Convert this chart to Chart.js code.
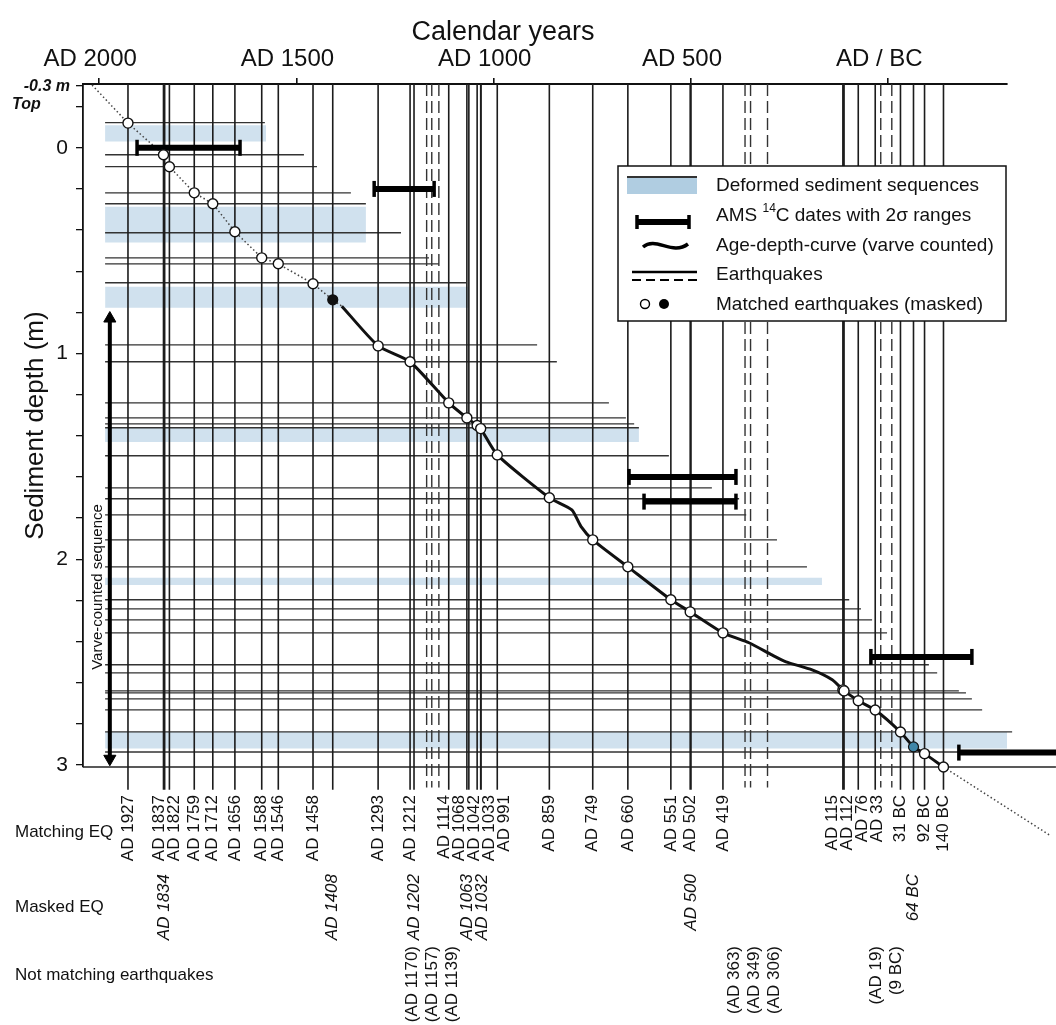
<!DOCTYPE html>
<html>
<head>
<meta charset="utf-8">
<script src="https://cdn.jsdelivr.net/npm/chart.js@4.4.1/dist/chart.umd.min.js"></script>
<style>
  html, body { margin: 0; padding: 0; background: #fff; }
  #wrap { width: 1056px; height: 1025px; position: relative; }
</style>
</head>
<body>
<div id="wrap"><canvas id="grafico"></canvas></div>
<script>
// ---- datos ----
// terremotos que coinciden (circulos abiertos): año (negativo = BC) y profundidad (m)
const matchingYears  = [1927, 1837, 1822, 1759, 1712, 1656, 1588, 1546, 1458, 1293, 1212, 1114, 1068, 1042, 1033, 991, 859, 749, 660, 551, 502, 419, 115, 112, 76, 33, -31, -92, -140];
const matchingDepths = [-0.12, 0.034, 0.092, 0.219, 0.272, 0.408, 0.535, 0.564, 0.661, 0.963, 1.04, 1.24, 1.313, 1.35, 1.365, 1.493, 1.701, 1.906, 2.037, 2.197, 2.256, 2.358, 2.635, 2.64, 2.688, 2.733, 2.84, 2.945, 3.01];
// terremotos enmascarados
const maskedYears = [1834, 1408, 1202, 1063, 1032, 500, -64];
const maskedDotYears  = [1408, -64];
const maskedDotDepths = [0.739, 2.912];
const maskedDotColors = ['#111111', '#3f86a8'];
// terremotos que no coinciden (lineas discontinuas)
const notMatchingYears = [1170, 1157, 1139, 363, 349, 306, 19, -9];

// curva edad-profundidad (conteo de varvas)
const curveYears  = [1385, 1293, 1212, 1114, 1068, 1042, 1033, 991, 859, 802, 779, 749, 660, 551, 502, 419, 353, 295, 259, 193, 142, 115, 112, 76, 33, -31, -64, -92, -140];
const curveDepths = [0.77, 0.963, 1.04, 1.24, 1.313, 1.35, 1.365, 1.493, 1.701, 1.76, 1.84, 1.906, 2.037, 2.197, 2.256, 2.358, 2.406, 2.465, 2.499, 2.538, 2.586, 2.635, 2.64, 2.688, 2.733, 2.84, 2.912, 2.945, 3.01];
// extrapolacion punteada
const dottedTopYears  = [2018, 1927, 1837, 1822, 1759, 1712, 1656, 1588, 1546, 1458, 1408, 1385];
const dottedTopDepths = [-0.305, -0.12, 0.034, 0.092, 0.219, 0.272, 0.408, 0.535, 0.564, 0.661, 0.739, 0.77];
const dottedEndYears  = [-140, -408];
const dottedEndDepths = [3.01, 3.34];

// capas de sedimento (lineas horizontales): profundidad y año donde terminan
const layerDepths   = [-0.122, 0.034, 0.092, 0.219, 0.272, 0.413, 0.535, 0.564, 0.656, 0.958, 1.04, 1.24, 1.313, 1.342, 1.361, 1.497, 1.653, 1.706, 1.784, 1.906, 2.037, 2.197, 2.241, 2.295, 2.358, 2.513, 2.552, 2.64, 2.65, 2.679, 2.732, 2.839, 2.937];
const layerEndYears = [1580, 1481, 1448, 1362, 1324, 1235, 1164, 1139, 1070, 890, 840, 708, 665, 644, 632, 556, 447, 378, 360, 282, 206, 99, 69, 41, 3, -103, -124, -179, -197, -212, -238, -314, -314];
const layerStartYear = 1985;

// secuencias de sedimento deformado (bandas azules)
const deformedTop     = [-0.11, 0.287, 0.676, 1.36, 2.09, 2.84];
const deformedBottom  = [-0.03, 0.46, 0.778, 1.43, 2.125, 2.92];
const deformedEndYear = [1577, 1324, 1063, 632, 168, -314];

// fechas AMS 14C con rangos 2 sigma
const amsDepths = [0.0, 0.2, 1.6, 1.72, 2.475, 2.94];
const amsFrom   = [1904, 1303, 657, 619, 44, -179];
const amsTo     = [1643, 1151, 386, 386, -212, -480];

// secuencia contada por varvas (flecha)
const varveYear = 1973;
const varveDepths = [0.83, 2.97];

const xTickYears  = [2000, 1500, 1000, 500, 0];
const yTickDepths = [-0.3, -0.2, 0, 0.2, 0.4, 0.6, 0.8, 1, 1.2, 1.4, 1.6, 1.8, 2, 2.2, 2.4, 2.6, 2.8, 3];

const coreTop = -0.31;
const coreBottom = 3.01;
const lineBottom = 3.12;

const FONT = "'Liberation Sans', Arial, Helvetica, sans-serif";
Chart.defaults.font.family = FONT;
Chart.defaults.color = '#111';

function etiquetaAnio(y) {
  return y < 0 ? (-y) + ' BC' : 'AD ' + y;
}

function segmentos(lista) {
  // lista de [x1,y1,x2,y2] -> datos con huecos
  const out = [];
  lista.forEach(s => {
    out.push({ x: s[0], y: s[1] }, { x: s[2], y: s[3] }, { x: s[2], y: null });
  });
  return out;
}

const datasets = [];

// bandas azules (pares de bordes con relleno entre ellos)
deformedTop.forEach((d, i) => {
  datasets.push({
    data: [{ x: layerStartYear, y: d }, { x: deformedEndYear[i], y: d }],
    borderWidth: 0, pointRadius: 0, fill: false, order: 60, clip: false
  });
  datasets.push({
    data: [{ x: layerStartYear, y: deformedBottom[i] }, { x: deformedEndYear[i], y: deformedBottom[i] }],
    borderWidth: 0, pointRadius: 0, fill: '-1', backgroundColor: 'rgba(170,200,224,0.55)', order: 59, clip: false
  });
});

// lineas horizontales de capas
datasets.push({
  data: segmentos(layerDepths.map((d, i) => [layerStartYear, d, layerEndYears[i], d])),
  borderColor: '#333', borderWidth: 1.3, pointRadius: 0, order: 50, clip: false, spanGaps: false
});
// linea base del nucleo
datasets.push({
  data: [{ x: 2041, y: coreBottom }, { x: -425, y: coreBottom }],
  borderColor: '#222', borderWidth: 1.5, pointRadius: 0, order: 49, clip: false
});

// lineas verticales de terremotos
datasets.push({
  data: segmentos(matchingYears.concat(maskedYears).map(y => [y, coreTop, y, lineBottom])),
  borderColor: '#1c1c1c', borderWidth: 1.6, pointRadius: 0, order: 40, clip: false
});
datasets.push({
  data: segmentos(notMatchingYears.map(y => [y, coreTop, y, lineBottom - 0.01])),
  borderColor: '#333', borderWidth: 1.4, borderDash: [12, 5], pointRadius: 0, order: 41, clip: false
});

// extrapolacion punteada
datasets.push({
  data: dottedTopYears.map((y, i) => ({ x: y, y: dottedTopDepths[i] })),
  borderColor: '#444', borderWidth: 1.5, borderDash: [1.5, 2.5], pointRadius: 0, order: 30, clip: false
});
datasets.push({
  data: dottedEndYears.map((y, i) => ({ x: y, y: dottedEndDepths[i] })),
  borderColor: '#444', borderWidth: 1.5, borderDash: [1.5, 2.5], pointRadius: 0, order: 30, clip: false
});

// curva edad-profundidad
datasets.push({
  data: curveYears.map((y, i) => ({ x: y, y: curveDepths[i] })),
  borderColor: '#111', borderWidth: 3, tension: 0.2, pointRadius: 0, order: 20, clip: false
});

// fechas AMS
amsDepths.forEach((d, i) => {
  datasets.push({
    data: [{ x: amsFrom[i], y: d }, { x: amsTo[i], y: d }],
    borderColor: '#000', borderWidth: 6, borderCapStyle: 'butt',
    pointStyle: 'line', pointRadius: 8, pointRotation: 90, pointBorderWidth: 3.5, pointBorderColor: '#000',
    order: 15, clip: false
  });
});

// flecha de secuencia de varvas
datasets.push({
  data: varveDepths.map(d => ({ x: varveYear, y: d })),
  borderColor: '#000', borderWidth: 4, pointStyle: 'triangle', pointRadius: 7,
  pointRotation: [0, 180], pointBackgroundColor: '#000', pointBorderColor: '#000', pointBorderWidth: 1,
  order: 12, clip: false
});

// circulos de terremotos coincidentes
datasets.push({
  data: matchingYears.map((y, i) => ({ x: y, y: matchingDepths[i] })),
  showLine: false, pointStyle: 'circle', pointRadius: 5, pointBackgroundColor: '#fff',
  pointBorderColor: '#111', pointBorderWidth: 1.4, order: 10, clip: false
});
// puntos enmascarados visibles
datasets.push({
  data: maskedDotYears.map((y, i) => ({ x: y, y: maskedDotDepths[i] })),
  showLine: false, pointStyle: 'circle', pointRadius: 5, pointBackgroundColor: maskedDotColors,
  pointBorderColor: '#111', pointBorderWidth: 1.2, order: 9, clip: false
});

function repartir(xs, gap) {
  // separa etiquetas solapadas, manteniendo el centro de cada grupo
  let grupos = xs.map(x => ({ sum: x, n: 1 }));
  const pos = g => {
    const c = g.sum / g.n;
    return { first: c - (g.n - 1) * gap / 2, last: c + (g.n - 1) * gap / 2 };
  };
  let cambio = true;
  while (cambio) {
    cambio = false;
    for (let i = 0; i < grupos.length - 1; i++) {
      if (pos(grupos[i]).last + gap > pos(grupos[i + 1]).first) {
        grupos[i] = { sum: grupos[i].sum + grupos[i + 1].sum, n: grupos[i].n + grupos[i + 1].n };
        grupos.splice(i + 1, 1);
        cambio = true;
        break;
      }
    }
  }
  const out = [];
  grupos.forEach(g => { const p = pos(g); for (let k = 0; k < g.n; k++) out.push(p.first + k * gap); });
  return out;
}

function filaEtiquetas(c, xScale, years, fmt, yTop, font, gap) {
  const items = years.map(y => ({ px: xScale.getPixelForValue(y), txt: fmt(y) })).sort((a, b) => a.px - b.px);
  const xs = repartir(items.map(it => it.px), gap);
  c.font = font;
  c.fillStyle = '#111';
  items.forEach((it, i) => {
    c.save();
    c.translate(xs[i], yTop);
    c.rotate(-Math.PI / 2);
    c.textAlign = 'right';
    c.textBaseline = 'middle';
    c.fillText(it.txt, 0, 0);
    c.restore();
  });
}

function dibujarLeyenda(c) {
  const L = 618, T = 166, R = 1006, B = 321;
  c.save();
  c.fillStyle = '#fff';
  c.fillRect(L, T, R - L, B - T);
  c.strokeStyle = '#111';
  c.lineWidth = 1.5;
  c.strokeRect(L, T, R - L, B - T);

  // banda azul
  c.fillStyle = 'rgba(150,188,215,0.75)';
  c.fillRect(627, 177, 70, 17);
  c.strokeStyle = '#333';
  c.lineWidth = 2;
  c.beginPath(); c.moveTo(627, 177); c.lineTo(697, 177); c.stroke();
  // barra AMS
  c.strokeStyle = '#000';
  c.lineWidth = 6;
  c.beginPath(); c.moveTo(637, 222); c.lineTo(689, 222); c.stroke();
  c.lineWidth = 3.5;
  c.beginPath(); c.moveTo(637, 215); c.lineTo(637, 229); c.moveTo(689, 215); c.lineTo(689, 229); c.stroke();
  // curva
  c.lineWidth = 3.5;
  c.beginPath(); c.moveTo(643, 247); c.bezierCurveTo(656, 236, 672, 256, 688, 244); c.stroke();
  // terremotos
  c.lineWidth = 2.5;
  c.beginPath(); c.moveTo(632, 272); c.lineTo(697, 272); c.stroke();
  c.lineWidth = 2;
  c.setLineDash([9, 5]);
  c.beginPath(); c.moveTo(632, 280); c.lineTo(697, 280); c.stroke();
  c.setLineDash([]);
  // puntos
  c.lineWidth = 1.4;
  c.fillStyle = '#fff';
  c.beginPath(); c.arc(645, 304, 4.5, 0, Math.PI * 2); c.fill(); c.stroke();
  c.fillStyle = '#000';
  c.beginPath(); c.arc(664, 304, 5, 0, Math.PI * 2); c.fill();

  c.fillStyle = '#111';
  c.textAlign = 'left';
  c.textBaseline = 'middle';
  c.font = '19px ' + FONT;
  c.fillText('Deformed sediment sequences', 716, 186);
  let x = 716;
  c.fillText('AMS ', x, 216); x += c.measureText('AMS ').width;
  c.font = '12px ' + FONT;
  c.fillText('14', x, 209); x += c.measureText('14').width;
  c.font = '19px ' + FONT;
  c.fillText('C dates with 2\u03c3 ranges', x, 216);
  c.fillText('Age-depth-curve (varve counted)', 716, 246);
  c.fillText('Earthquakes', 716, 275);
  c.fillText('Matched earthquakes (masked)', 716, 305);
  c.restore();
}

const textosPlugin = {
  id: 'textos',
  afterDatasetsDraw(chart) {
    dibujarLeyenda(chart.ctx);
  },
  afterDraw(chart) {
    const c = chart.ctx;
    const xs = chart.scales.x, ys = chart.scales.y;
    c.save();
    c.fillStyle = '#111';
    c.textBaseline = 'middle';
    // titulo superior
    c.font = '27px ' + FONT;
    c.textAlign = 'center';
    c.fillText('Calendar years', 503, 33);
    // -0.3 m / Top
    const yTop = ys.getPixelForValue(-0.3);
    c.font = 'italic bold 16px ' + FONT;
    c.textAlign = 'right';
    c.fillText('-0.3 m', 70, yTop + 1);
    c.textAlign = 'left';
    c.fillText('Top', 12, yTop + 19);
    // nombres de filas
    c.font = '17px ' + FONT;
    c.fillText('Matching EQ', 15, 832);
    c.fillText('Masked EQ', 15, 907);
    c.fillText('Not matching earthquakes', 15, 975);
    // texto de la flecha
    c.save();
    c.translate(98, 587);
    c.rotate(-Math.PI / 2);
    c.textAlign = 'center';
    c.font = '15px ' + FONT;
    c.fillText('Varve-counted sequence', 0, 0);
    c.restore();
    // etiquetas rotadas
    filaEtiquetas(c, xs, matchingYears, etiquetaAnio, 795, '17px ' + FONT, 15);
    filaEtiquetas(c, xs, maskedYears, etiquetaAnio, 874, 'italic 17px ' + FONT, 15);
    filaEtiquetas(c, xs, notMatchingYears, y => '(' + etiquetaAnio(y) + ')', 946, '17px ' + FONT, 20);
    c.restore();
  }
};

const ctx = document.getElementById('grafico').getContext('2d');
new Chart(ctx, {
  type: 'line',
  data: { datasets: datasets },
  options: {
    responsive: true,
    maintainAspectRatio: false,
    animation: false,
    events: [],
    layout: { padding: { left: 0, right: 49, top: 0, bottom: 258 } },
    plugins: { legend: { display: false }, tooltip: { enabled: false } },
    scales: {
      x: {
        type: 'linear', position: 'top', reverse: true, min: -301, max: 2041,
        afterFit(s) { s.height = 84; },
        afterBuildTicks(s) { s.ticks = xTickYears.map(v => ({ value: v })); },
        ticks: {
          callback: v => v === 0 ? 'AD / BC' : 'AD ' + v,
          font: { size: 24, family: FONT }, color: '#111', padding: 4, labelOffset: -9,
          maxRotation: 0, autoSkip: false
        },
        grid: { drawOnChartArea: false, tickLength: 6, color: '#111', lineWidth: 1.6 },
        border: { color: '#111', width: 2 }
      },
      y: {
        type: 'linear', reverse: true, min: coreTop, max: coreBottom,
        afterFit(s) { s.width = 83; },
        afterBuildTicks(s) { s.ticks = yTickDepths.map(v => ({ value: v })); },
        ticks: {
          callback: v => Number.isInteger(v) ? String(v) : '',
          font: { size: 21, family: FONT }, color: '#111', padding: 8, autoSkip: false
        },
        grid: { drawOnChartArea: false, tickLength: 7, color: '#111', lineWidth: 1.3 },
        border: { color: '#111', width: 1.8 },
        title: { display: true, text: 'Sediment depth (m)', font: { size: 26, family: FONT }, color: '#111', padding: { top: 20, bottom: 0 } }
      }
    }
  },
  plugins: [textosPlugin]
});
</script>
</body>
</html>
